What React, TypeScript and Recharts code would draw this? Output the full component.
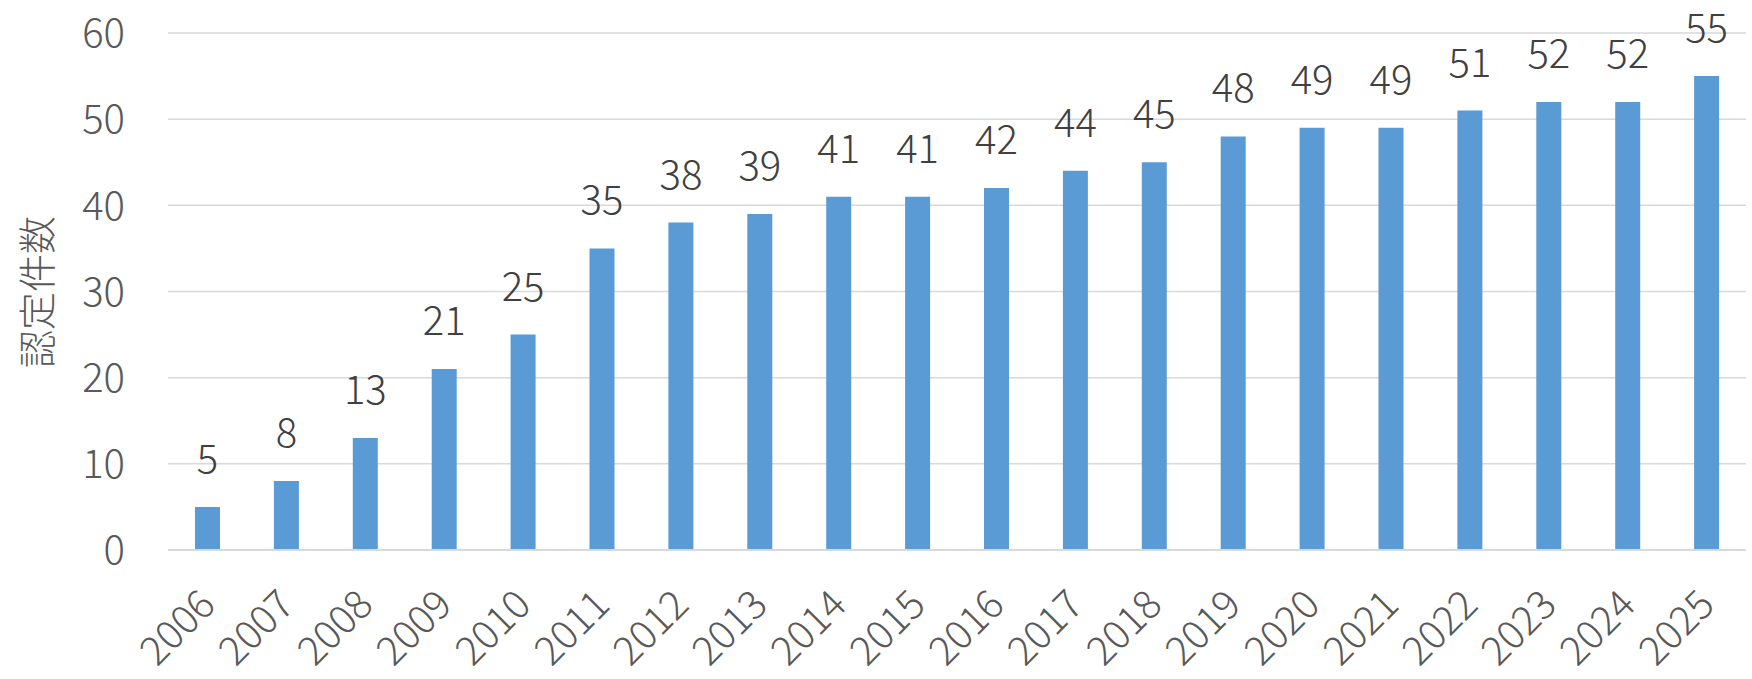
import React from 'react';
import { BarChart, Bar, XAxis, YAxis, CartesianGrid, LabelList } from 'recharts';

const years = [
  '2006', '2007', '2008', '2009', '2010', '2011', '2012', '2013', '2014', '2015',
  '2016', '2017', '2018', '2019', '2020', '2021', '2022', '2023', '2024', '2025'
];
const counts = [5, 8, 13, 21, 25, 35, 38, 39, 41, 41, 42, 44, 45, 48, 49, 49, 51, 52, 52, 55];
const yTicks = [0, 10, 20, 30, 40, 50, 60];
const yTitle = '認定件数';

const FONT = '"Noto Sans CJK JP", "Noto Sans", sans-serif';
const TEXT = '#595959';

const data = years.map((year, i) => ({ year, count: counts[i] }));

function YearTick({ x, y, payload }: any) {
  return (
    <g transform={`translate(${x + 10},${y + 57})`}>
      <text
        transform="rotate(-45)"
        textAnchor="end"
        fill={TEXT}
        fontSize={40}
        fontFamily={FONT}
        fontWeight={300}
      >
        {payload.value}
      </text>
    </g>
  );
}

function ValueLabel({ x, y, width, value }: any) {
  return (
    <text
      x={x + width / 2}
      y={y - 34}
      textAnchor="middle"
      fill="#404040"
      fontSize={40}
      fontFamily={FONT}
      fontWeight={300}
    >
      {value}
    </text>
  );
}

function AxisTitle({ viewBox }: any) {
  const cx = viewBox.x + 34;
  const cy = 292;
  return (
    <text
      x={cx}
      y={cy}
      transform={`rotate(-90, ${cx}, ${cy})`}
      textAnchor="middle"
      dominantBaseline="central"
      fill={TEXT}
      fontSize={38}
      fontFamily={FONT}
      fontWeight={300}
    >
      {yTitle}
    </text>
  );
}

export default function App() {
  return (
    <div style={{ position: 'absolute', left: 0, top: 0, background: '#fff' }}>
      <BarChart
        width={1752}
        height={679}
        data={data}
        margin={{ top: 33, right: 6, bottom: 0, left: 0 }}
      >
        <CartesianGrid vertical={false} stroke="#D9D9D9" strokeWidth={1.5} />
        <XAxis
          dataKey="year"
          height={129}
          interval={0}
          tickLine={false}
          tickSize={0}
          tickMargin={0}
          axisLine={{ stroke: '#D9D9D9', strokeWidth: 2 }}
          tick={<YearTick />}
        />
        <YAxis
          width={168}
          domain={[0, 60]}
          ticks={yTicks}
          tickLine={false}
          axisLine={false}
          tickSize={0}
          tickMargin={43}
          tick={{ fill: TEXT, fontSize: 40, fontFamily: FONT, fontWeight: 300 }}
          label={<AxisTitle />}
        />
        <Bar dataKey="count" fill="#5B9BD5" barSize={25} isAnimationActive={false}>
          <LabelList dataKey="count" content={<ValueLabel />} />
        </Bar>
      </BarChart>
    </div>
  );
}
